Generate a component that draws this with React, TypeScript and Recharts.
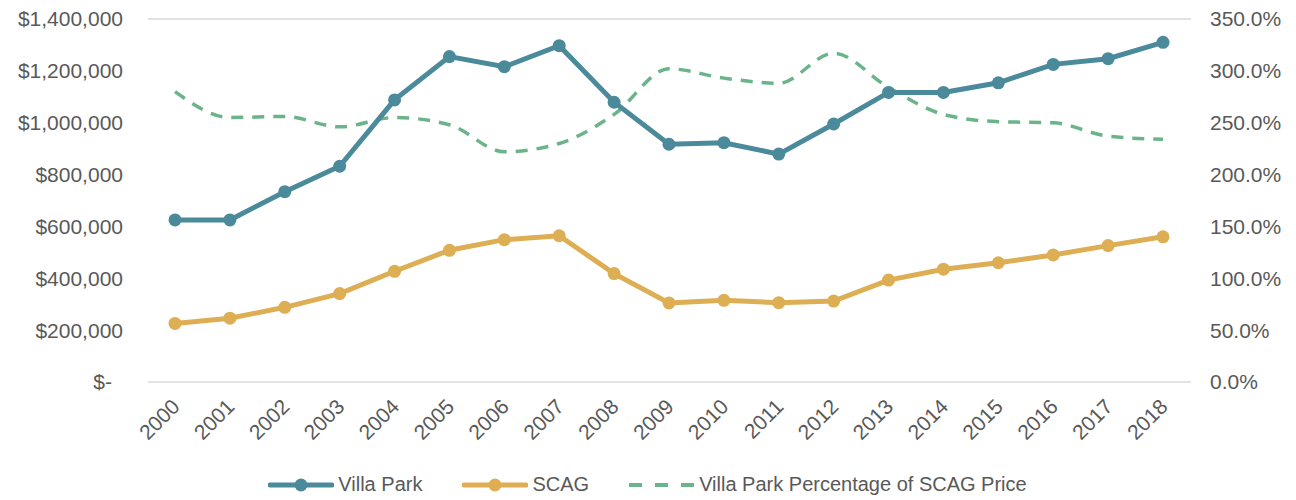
import { LineChart, CartesianGrid, Line, XAxis, YAxis, Legend } from 'recharts'

const years = ['2000', '2001', '2002', '2003', '2004', '2005', '2006', '2007', '2008', '2009', '2010', '2011', '2012', '2013', '2014', '2015', '2016', '2017', '2018']

const villaPark = [625000, 625000, 734000, 832000, 1088000, 1255000, 1216000, 1297000, 1079000, 917000, 923000, 879000, 995000, 1117000, 1117000, 1154000, 1225000, 1247000, 1310000]

const scag = [226000, 246000, 288000, 341000, 427000, 508000, 549000, 564000, 418000, 305000, 315000, 306000, 312000, 393000, 435000, 460000, 490000, 526000, 560000]

// percent of SCAG price
const pctOfScag = [280, 255, 256, 246, 255, 248, 222, 230, 258, 302, 293, 288, 317, 284, 258, 251, 250, 237, 234]

const leftTicks = [0, 200000, 400000, 600000, 800000, 1000000, 1200000, 1400000]
const rightTicks = [0, 50, 100, 150, 200, 250, 300, 350]

const data = years.map((year, i) => ({
  year,
  villaPark: villaPark[i],
  scag: scag[i],
  pct: pctOfScag[i],
}))

const TEAL = '#4a8a9b'
const GOLD = '#ddae53'
const GREEN = '#6bb48b'
const TEXT = '#595959'
const FONT = '"Liberation Sans", Arial, sans-serif'

const formatMoney = (v: number) => '$' + v.toLocaleString('en-US')

const LeftTick = ({ x, y, payload }: any) => {
  const v = payload.value as number
  return (
    <text
      x={v === 0 ? x - 11 : x}
      y={y}
      dy="0.355em"
      textAnchor="end"
      fill={TEXT}
      fontSize={21}
      fontFamily={FONT}
    >
      {v === 0 ? '$-' : formatMoney(v)}
    </text>
  )
}

const YearTick = ({ x, y, payload }: any) => {
  const tx = x + 6
  const ty = y + 18
  return (
    <text
      x={tx}
      y={ty}
      textAnchor="end"
      transform={`rotate(-45, ${tx}, ${ty})`}
      fill={TEXT}
      fontSize={21}
      fontFamily={FONT}
    >
      {payload.value}
    </text>
  )
}

const legendItems = [
  { label: 'Villa Park', color: TEAL, dashed: false },
  { label: 'SCAG', color: GOLD, dashed: false },
  { label: 'Villa Park Percentage of SCAG Price', color: GREEN, dashed: true },
]

const renderLegend = () => (
  <div
    style={{
      height: 48,
      display: 'flex',
      justifyContent: 'center',
      alignItems: 'flex-end',
      paddingBottom: 4,
      paddingRight: 14,
      boxSizing: 'border-box',
      fontFamily: FONT,
      fontSize: 20,
      color: TEXT,
    }}
  >
    {legendItems.map((item) => (
      <div key={item.label} style={{ display: 'flex', alignItems: 'center', margin: '0 20px' }}>
        <svg width={66} height={16} style={{ marginRight: 4 }}>
          {item.dashed ? (
            <line x1={0} y1={8} x2={66} y2={8} stroke={item.color} strokeWidth={4} strokeDasharray="13 13" />
          ) : (
            <>
              <line x1={2} y1={8} x2={64} y2={8} stroke={item.color} strokeWidth={5} strokeLinecap="round" />
              <circle cx={33} cy={8} r={6.5} fill={item.color} />
            </>
          )}
        </svg>
        <span>{item.label}</span>
      </div>
    ))}
  </div>
)

export default function App() {
  return (
    <div style={{ position: 'absolute', left: 0, top: 0, background: '#fff' }}>
      <LineChart width={1296} height={500} data={data} margin={{ top: 19, right: 5, bottom: 0, left: 18 }}>
        <CartesianGrid vertical={false} stroke="#d9d9d9" strokeWidth={1.5} />
        <XAxis
          dataKey="year"
          height={70}
          interval={0}
          padding={{ left: 27, right: 28 }}
          tick={<YearTick />}
          tickLine={false}
          axisLine={false}
        />
        <YAxis
          yAxisId="left"
          width={130}
          domain={[0, 1400000]}
          ticks={leftTicks}
          tick={<LeftTick />}
          tickLine={false}
          axisLine={false}
          tickMargin={19}
        />
        <YAxis
          yAxisId="right"
          orientation="right"
          width={100}
          domain={[0, 350]}
          ticks={rightTicks}
          tickFormatter={(v: number) => `${v.toFixed(1)}%`}
          tick={{ fontSize: 21, fill: TEXT, fontFamily: FONT }}
          tickLine={false}
          axisLine={false}
          tickMargin={13}
        />
        <Legend verticalAlign="bottom" height={48} content={renderLegend} />
        <Line
          yAxisId="right"
          dataKey="pct"
          type="monotone"
          stroke={GREEN}
          strokeWidth={3.5}
          strokeDasharray="12 9"
          dot={false}
          isAnimationActive={false}
        />
        <Line
          yAxisId="left"
          dataKey="scag"
          type="linear"
          stroke={GOLD}
          strokeWidth={5}
          dot={{ r: 6.5, fill: GOLD, stroke: GOLD, strokeWidth: 0 }}
          isAnimationActive={false}
        />
        <Line
          yAxisId="left"
          dataKey="villaPark"
          type="linear"
          stroke={TEAL}
          strokeWidth={5}
          dot={{ r: 6.5, fill: TEAL, stroke: TEAL, strokeWidth: 0 }}
          isAnimationActive={false}
        />
      </LineChart>
    </div>
  )
}
